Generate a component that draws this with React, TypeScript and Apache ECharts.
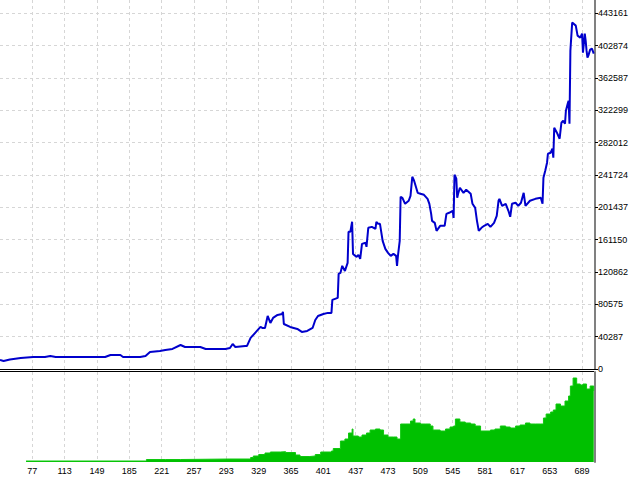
import React, { useEffect, useRef } from "react";
import * as echarts from "echarts";

// Balance curve: [trade number, balance]
const balancePoints: [number, number][] = [
  [41, 11200], [45, 10000], [52, 11900], [64, 13700], [78, 15000], [91, 15000], [97, 16200], [103, 15000],
  [158, 15000], [164, 17500], [175, 17500], [178, 15000], [197, 15000], [203, 16200], [208, 21200], [219, 22500],
  [225, 23700], [233, 25000], [242, 29900], [247, 27400], [264, 27400], [270, 25000], [292, 25000], [297, 26200],
  [300, 31200], [303, 27400], [314, 28700], [316, 28700], [320, 38700], [327, 47400], [331, 52400], [333, 51100],
  [336, 51100], [339, 66100], [342, 57400], [345, 63600], [350, 67400], [355, 68600], [356, 71100], [357, 56100],
  [364, 52400], [372, 49900], [377, 46200], [383, 47400], [389, 51100], [392, 61100], [395, 66100], [401, 68600],
  [406, 69900], [410, 69900], [411, 86100], [417, 88600], [418, 118500], [420, 119700], [422, 128500], [425, 122200],
  [428, 132200], [429, 170900], [431, 170900], [433, 183400], [434, 143400], [438, 139700], [440, 142200], [442, 137200],
  [444, 155900], [448, 157200], [449, 152200], [451, 175900], [455, 177100], [459, 174600], [460, 183400], [462, 180900],
  [464, 180900], [467, 159700], [470, 149700], [473, 144700], [476, 140900], [479, 143400], [482, 140900], [483, 128500],
  [484, 140900], [486, 159700], [487, 214500], [489, 213300], [492, 205800], [496, 209600], [498, 215800], [500, 239500],
  [502, 234500], [506, 219500], [509, 218300], [513, 217000], [517, 212000], [519, 205800], [521, 193300], [522, 184600],
  [525, 182100], [527, 172100], [531, 178400], [536, 178400], [538, 193300], [541, 194600], [545, 197100], [546, 188300],
  [547, 242000], [549, 237000], [550, 213300], [551, 218300], [553, 225800], [557, 219500], [560, 223300], [565, 218300],
  [567, 205800], [570, 200800], [572, 184600], [574, 172100], [577, 175900], [580, 178400], [584, 180900], [587, 177100],
  [591, 182100], [594, 190800], [596, 209600], [597, 212000], [600, 203300], [604, 205800], [607, 197100], [609, 189600],
  [611, 205800], [615, 207100], [618, 203300], [621, 207100], [624, 219500], [626, 203300], [631, 209600], [637, 212000],
  [643, 213300], [645, 205800], [646, 238200], [648, 247000], [650, 257000], [651, 268200], [654, 269400], [656, 274400],
  [657, 263200], [658, 300600], [661, 294400], [664, 286900], [666, 306800], [668, 309300], [670, 305600], [671, 321800],
  [673, 330500], [674, 334300], [675, 305600], [676, 396600], [678, 431600], [682, 427800], [684, 415400], [687, 412900],
  [689, 417900], [690, 394200], [692, 417900], [693, 409100], [694, 396600], [695, 387900], [696, 390400], [698, 397900],
  [700, 399100], [702, 392900],
];

// Lower panel histogram: [trade number, value]
const volumePoints: [number, number][] = [
  [70, 1], [80, 1], [203, 1], [204, 2.5], [225, 2.5], [242, 3], [297, 3], [320, 4.5], [323, 6], [329, 7.5],
  [336, 9], [342, 10], [353, 10.3], [359, 9.5], [370, 7], [375, 5.5], [386, 6], [392, 7.5], [398, 10], [410, 11],
  [412, 13.5], [420, 21], [425, 23], [429, 29], [433, 33], [434, 26], [440, 25], [444, 27], [449, 29], [453, 32],
  [459, 33], [464, 32], [468, 27], [473, 25], [479, 25], [483, 23], [487, 38], [492, 38], [498, 41], [501, 43],
  [503, 39], [509, 38], [515, 38], [520, 36], [523, 32], [531, 31], [537, 33], [542, 35], [546, 36], [548, 43],
  [553, 40], [559, 39], [565, 38], [570, 36], [576, 31], [581, 31], [587, 32], [592, 33], [598, 36], [604, 35],
  [609, 34], [615, 36], [620, 37], [626, 39], [631, 38], [637, 38], [643, 38], [646, 44], [649, 48], [654, 50],
  [657, 52], [660, 58], [665, 56], [670, 61], [674, 66], [676, 76], [679, 84], [683, 78], [687, 77], [690, 78],
  [694, 73], [698, 76], [702, 71],
];

const X_MIN = 41;
const X_MAX = 703.4;
const X_STEP = 36;
const Y_STEP = 40287.4;
const Y_MAX = 459733;
const VOL_MAX = 90;

const FONT = "Liberation Sans";
const gridLine = { color: "#d6d6d6", type: [3, 3] as number[], width: 1 };

export default function App() {
  const ref = useRef<HTMLDivElement>(null);
  useEffect(() => {
    if (!ref.current) return;
    const chart = echarts.init(ref.current, undefined, { renderer: "svg" });
    chart.setOption({
      animation: false,
      backgroundColor: "#ffffff",
      grid: [
        { left: 0, top: 0, width: 595, height: 369 },
        { left: 0, top: 372, width: 595, height: 90 },
      ],
      xAxis: [
        {
          gridIndex: 0, type: "value", min: X_MIN, max: X_MAX, interval: X_STEP,
          axisLine: { show: true, onZero: false, lineStyle: { color: "#000", width: 1 } },
          axisTick: { show: false }, axisLabel: { show: false },
          splitLine: { show: true, showMinLine: false, showMaxLine: false, lineStyle: gridLine },
        },
        {
          gridIndex: 1, type: "value", min: X_MIN, max: X_MAX, interval: X_STEP,
          axisLine: { show: false }, axisTick: { show: false },
          axisLabel: {
            show: true, fontSize: 9, fontFamily: FONT, color: "#000", margin: 4,
            showMinLabel: false, showMaxLabel: false,
            formatter: (v: number) => String(Math.round(v)),
          },
          splitLine: { show: true, showMinLine: false, showMaxLine: false, lineStyle: gridLine },
        },
      ],
      yAxis: [
        {
          gridIndex: 0, type: "value", position: "right", min: 0, max: Y_MAX, interval: Y_STEP,
          axisLine: { show: true, lineStyle: { color: "#808080", width: 2 } },
          axisTick: { show: true, length: 3, lineStyle: { color: "#000", width: 1 } },
          axisLabel: {
            fontSize: 9, fontFamily: FONT, color: "#000", margin: 3,
            showMaxLabel: false,
            formatter: (v: number) => String(Math.round(v)),
          },
          splitLine: { show: true, showMinLine: false, showMaxLine: false, lineStyle: gridLine },
        },
        {
          gridIndex: 1, type: "value", position: "right", min: 0, max: VOL_MAX,
          axisLine: { show: true, lineStyle: { color: "#808080", width: 2 } },
          axisTick: { show: false }, axisLabel: { show: false }, splitLine: { show: false },
        },
      ],
      graphic: [
        { type: "line", shape: { x1: 0, y1: 371.5, x2: 594, y2: 371.5 }, style: { stroke: "#000", lineWidth: 1 }, silent: true },
      ],
      series: [
        {
          type: "line", xAxisIndex: 0, yAxisIndex: 0, data: balancePoints,
          symbol: "none", lineStyle: { color: "#0000CC", width: 2 }, z: 3,
        },
        {
          type: "line", xAxisIndex: 1, yAxisIndex: 1, data: volumePoints, step: "end",
          symbol: "none", lineStyle: { color: "#10C810", width: 1 },
          areaStyle: { color: "#00C000", opacity: 1 },
        },
      ],
    });
    return () => chart.dispose();
  }, []);
  return (
    <div
      ref={ref}
      style={{ position: "fixed", left: 0, top: 0, width: 640, height: 480, background: "#fff" }}
    />
  );
}
